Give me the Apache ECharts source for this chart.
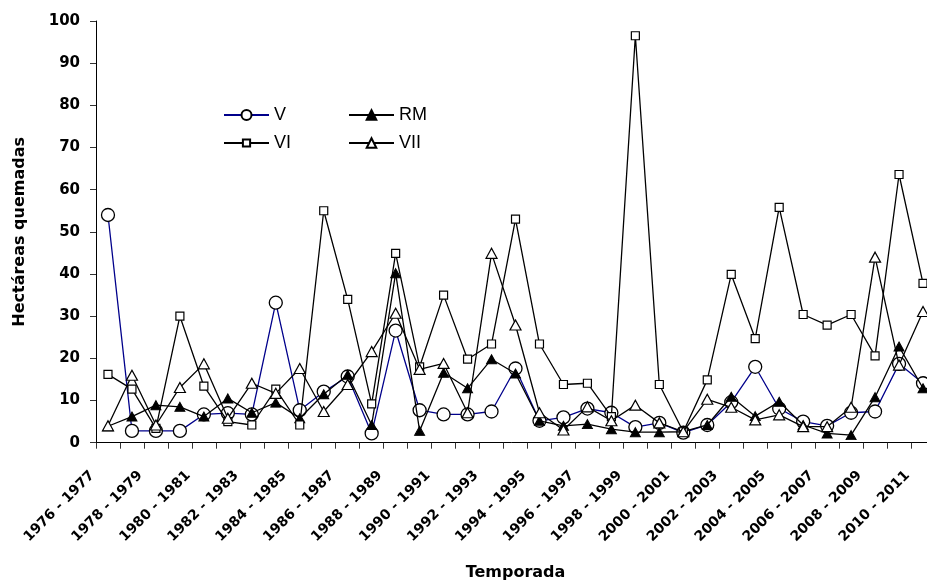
<!DOCTYPE html>
<html>
<head>
<meta charset="utf-8">
<script src="https://cdn.jsdelivr.net/npm/echarts@6/dist/echarts.min.js"></script>
<style>
  html, body { margin: 0; padding: 0; background: #ffffff; }
  #chart { width: 927px; height: 583px; }
</style>
</head>
<body>
<div id="chart"></div>
<script>
const categories = [
  "1976 - 1977", "1977 - 1978", "1978 - 1979", "1979 - 1980", "1980 - 1981",
  "1981 - 1982", "1982 - 1983", "1983 - 1984", "1984 - 1985", "1985 - 1986",
  "1986 - 1987", "1987 - 1988", "1988 - 1989", "1989 - 1990", "1990 - 1991",
  "1991 - 1992", "1992 - 1993", "1993 - 1994", "1994 - 1995", "1995 - 1996",
  "1996 - 1997", "1997 - 1998", "1998 - 1999", "1999 - 2000", "2000 - 2001",
  "2001 - 2002", "2002 - 2003", "2003 - 2004", "2004 - 2005", "2005 - 2006",
  "2006 - 2007", "2007 - 2008", "2008 - 2009", "2009 - 2010", "2010 - 2011"
];
const seriesV   = [54.0, 2.8, 2.8, 2.8, 6.7, 7.0, 6.7, 33.2, 7.7, 12.1, 15.7, 2.2, 26.6, 7.7, 6.7, 6.7, 7.4, 17.6, 5.2, 6.0, 8.1, 7.1, 3.7, 4.7, 2.4, 4.2, 9.6, 18.0, 8.1, 5.0, 4.0, 7.1, 7.4, 18.7, 14.1];
const seriesRM  = [3.9, 6.2, 8.9, 8.5, 6.2, 10.5, 7.1, 9.5, 5.8, 11.5, 16.1, 4.2, 40.2, 2.8, 16.6, 12.9, 19.8, 16.4, 5.2, 4.0, 4.4, 3.2, 2.5, 2.5, 2.6, 4.2, 10.9, 6.3, 9.7, 4.2, 2.2, 1.8, 10.8, 22.8, 12.9];
const seriesVI  = [16.2, 12.7, 3.4, 30.0, 13.4, 5.0, 4.2, 12.7, 4.2, 55.0, 34.0, 9.2, 44.9, 18.0, 35.0, 19.8, 23.4, 53.0, 23.4, 13.8, 14.1, 6.2, 96.5, 13.8, 2.6, 14.9, 39.9, 24.7, 55.8, 30.4, 27.9, 30.4, 20.6, 63.6, 37.8];
const seriesVII = [4.0, 16.0, 4.2, 13.1, 18.7, 5.8, 14.1, 11.7, 17.6, 7.4, 13.8, 21.6, 30.7, 17.4, 18.8, 7.1, 44.9, 27.9, 7.1, 3.0, 8.5, 5.2, 8.9, 4.7, 2.6, 10.3, 8.4, 5.4, 6.6, 3.8, 3.8, 8.4, 44.0, 18.4, 31.1];
const yTicks = { min: 0, max: 100, step: 10 };
const seriesNames = ["V", "RM", "VI", "VII"];
const yTitle = "Hectáreas quemadas";
const xTitle = "Temporada";

const chart = echarts.init(document.getElementById('chart'), null, { renderer: 'canvas' });

const boldFont = "DejaVu Sans";
const legendText = { fontFamily: "Liberation Sans", fontSize: 18, color: "#000" };

function mkLegend(name, left, top, ih) {
  return {
    data: [name], left: left, top: top, padding: 0,
    itemWidth: 45, itemHeight: ih, itemGap: 0,
    textStyle: legendText, selectedMode: false
  };
}

const option = {
  animation: false,
  backgroundColor: '#ffffff',
  grid: { left: 96, width: 839, top: 21, bottom: 140.3, containLabel: false, outerBoundsMode: 'none' },
  legend: [
    mkLegend(seriesNames[0], 223, 106, 12.5),
    mkLegend(seriesNames[1], 348, 106, 12),
    mkLegend(seriesNames[2], 223, 134, 9),
    mkLegend(seriesNames[3], 348, 134, 12)
  ],
  xAxis: {
    type: 'category',
    data: categories,
    boundaryGap: true,
    name: xTitle,
    nameLocation: 'middle',
    nameGap: 122,
    nameTextStyle: { fontFamily: boldFont, fontWeight: 'bold', fontSize: 16, color: '#000' },
    axisLine: { lineStyle: { color: '#000', width: 1 } },
    axisTick: { show: true, interval: 0, length: 6, lineStyle: { color: '#333' } },
    axisLabel: {
      interval: 1, rotate: 45, margin: 15,
      formatter: function (v) { return '{t|' + v + '}'; },
      rich: { t: { padding: [0, 22, 0, 0], fontFamily: boldFont, fontWeight: 'bold', fontSize: 14, color: '#000' } },
      fontFamily: boldFont, fontWeight: 'bold', fontSize: 14, color: '#000'
    },
    splitLine: { show: false }
  },
  yAxis: {
    type: 'value',
    min: yTicks.min, max: yTicks.max, interval: yTicks.step,
    name: yTitle,
    nameLocation: 'middle',
    nameRotate: 90,
    nameGap: 68,
    nameTextStyle: { fontFamily: boldFont, fontWeight: 'bold', fontSize: 16, color: '#000' },
    axisLine: { show: true, lineStyle: { color: '#000', width: 1 } },
    axisTick: { show: true, length: 6, lineStyle: { color: '#333' } },
    axisLabel: { margin: 16, fontFamily: boldFont, fontWeight: 'bold', fontSize: 15, color: '#000' },
    splitLine: { show: false }
  },
  series: [
    {
      name: seriesNames[0], type: 'line', data: seriesV,
      symbol: 'circle', symbolSize: 13,
      lineStyle: { color: '#00008b', width: 1.3 },
      itemStyle: { color: '#ffffff', borderColor: '#000', borderWidth: 1.3 },
      z: 2
    },
    {
      name: seriesNames[1], type: 'line', data: seriesRM,
      symbol: 'triangle', symbolSize: [10, 9],
      lineStyle: { color: '#000', width: 1.3 },
      itemStyle: { color: '#000', borderColor: '#000', borderWidth: 1 },
      z: 3
    },
    {
      name: seriesNames[2], type: 'line', data: seriesVI,
      symbol: 'rect', symbolSize: 8,
      lineStyle: { color: '#000', width: 1.3 },
      itemStyle: { color: '#ffffff', borderColor: '#000', borderWidth: 1.2 },
      z: 4
    },
    {
      name: seriesNames[3], type: 'line', data: seriesVII,
      symbol: 'triangle', symbolSize: [11, 10],
      lineStyle: { color: '#000', width: 1.3 },
      itemStyle: { color: '#ffffff', borderColor: '#000', borderWidth: 1.2 },
      z: 5
    }
  ]
};
chart.setOption(option);
</script>
</body>
</html>
